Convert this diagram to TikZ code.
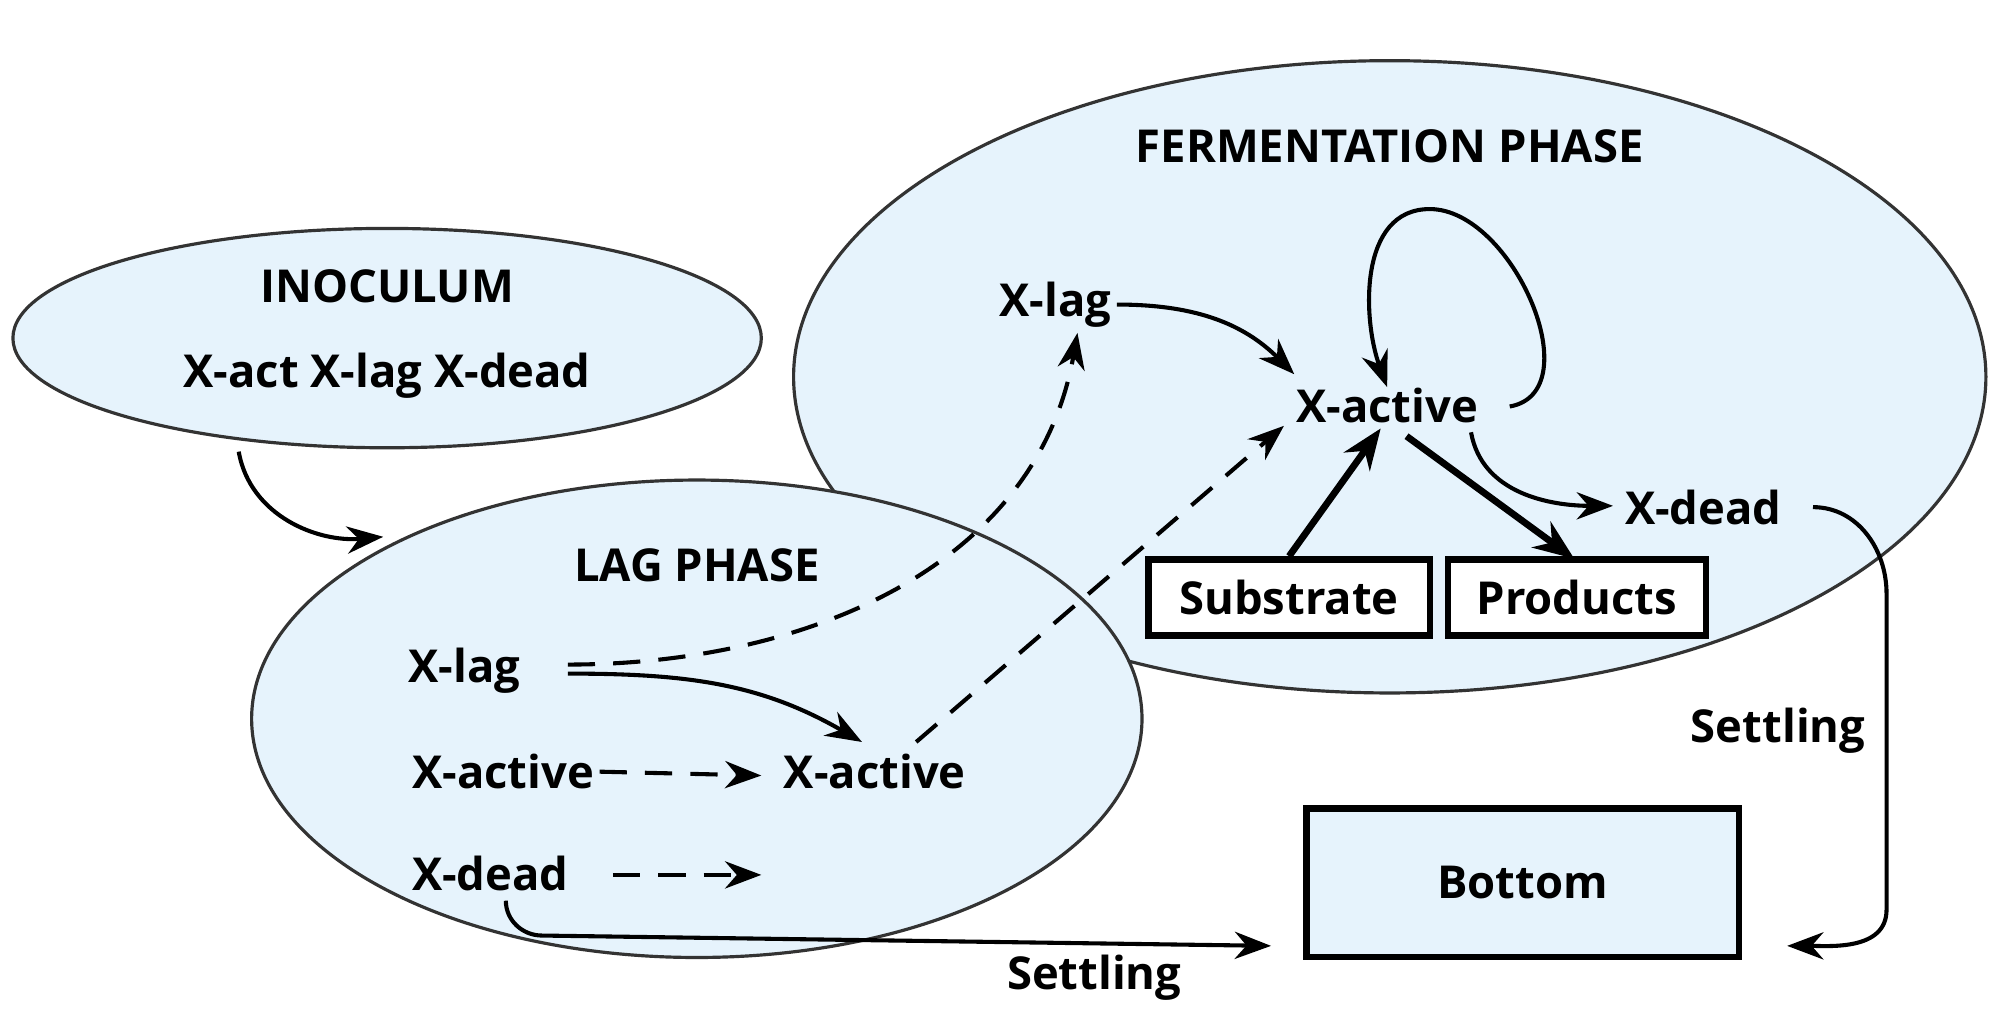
\documentclass[tikz,border=0pt]{standalone}
\usepackage{fontspec}
\setmainfont{Open Sans}
\usetikzlibrary{arrows.meta}
\begin{document}
\begin{tikzpicture}[x=0.01cm,y=-0.01cm,
  every node/.style={font=\bfseries\fontsize{10}{12}\selectfont},
  phase/.style={draw=black!80,line width=0.7pt,fill={rgb,255:red,230;green,243;blue,252}},
  lbl/.style={inner sep=1pt},
  box/.style={draw,line width=1.4pt,fill=white,inner sep=0pt},
  con/.style={line width=0.9pt,-{Stealth[length=8pt,width=6pt]}},
  dcon/.style={con,dash pattern=on 6pt off 4pt},
  thk/.style={line width=1.5pt,-{Stealth[length=9pt,width=7pt]}}]
\useasboundingbox (0,0) rectangle (1560,796);
\draw[phase] (300,262) ellipse [x radius=290,y radius=85];
\draw[phase] (1077,292) ellipse [x radius=462,y radius=245];
\draw[phase] (540,557) ellipse [x radius=345,y radius=185];
\node (ino) at (300,222) {INOCULUM};
\node (inox) at (300,291) {X-act X-lag X-dead};
\node (ferm) at (1077,113) {FERMENTATION PHASE};
\node (lag) at (540,438) {LAG PHASE};
\node[lbl] (llag) at (360,520) {X-lag};
\node[lbl] (lact) at (390,598) {X-active};
\node[lbl] (ldead) at (380,677) {X-dead};
\node[lbl] (lact2) at (678,598) {X-active};
\node[lbl] (flag) at (818,236) {X-lag};
\node[lbl] (fact) at (1075,314) {X-active};
\node[lbl] (fdead) at (1320,393) {X-dead};
\node[box,minimum width=218*0.01cm,minimum height=59*0.01cm] (sub) at (999,463) {Substrate};
\node[box,minimum width=200*0.01cm,minimum height=59*0.01cm] (prod) at (1222,463) {Products};
\node[box,fill={rgb,255:red,230;green,243;blue,252},minimum width=335*0.01cm,minimum height=115*0.01cm] (bot) at (1180,684) {Bottom};
\node (s1) at (1378,566) {Settling};
\node (s2) at (848,758) {Settling};
\coordinate (ldeadend) at (590,678);
% arrows
\draw[con] (185,350) to[out=-80,in=185] (297,416);
\draw[dcon] (440,515) to[out=0,in=-100] (835,258);
\draw[con] (440,522) to[out=0,in=150] (668,575);
\draw[dcon] (lact.east) -- (590,601);
\draw[dcon] (475,678) -- (ldeadend);
\draw[con] (392,698) to[out=-90,in=180] (420,725) -- (985,733);
\draw[dcon] (710,575) -- (995,330);
\draw[con] (flag.east) to[out=0,in=135] (1003,290);
\draw[con] (1170,315) to[out=10,in=0] (1108,162) to[out=180,in=110] (1075,300);
\draw[con] (1140,335) to[out=-80,in=180] (1250,392);
\draw[thk] (sub.north) -- (1070,332);
\draw[thk] (1090,338) -- (1220,433);
\draw[con] (1405,393) to[out=0,in=90] (1462,460) -- (1462,705) to[out=-90,in=0] (1385,733);
\end{tikzpicture}
\end{document}
